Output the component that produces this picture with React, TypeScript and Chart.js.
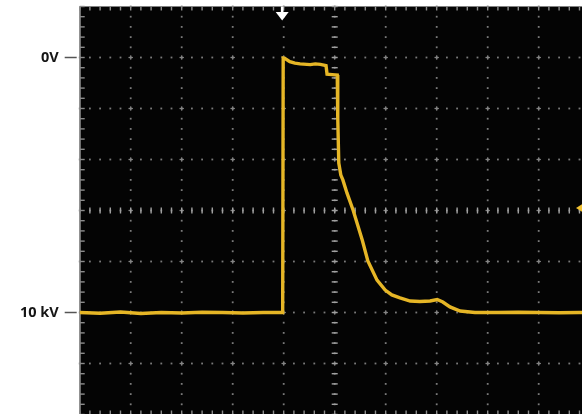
import React, { useEffect, useRef } from "react";
import { Chart, registerables } from "chart.js";

Chart.register(...registerables);

// ---- data (time in divisions, voltage in kV) ----
const TIME = [
  0, 0.4, 0.8, 1.2, 1.6, 2.0, 2.4, 2.8, 3.2, 3.6, 3.98,
  3.99, 4.02, 4.12, 4.22, 4.32, 4.52, 4.62, 4.72, 4.83, 4.85, 4.95, 5.05, 5.06, 5.08,
  5.12, 5.16, 5.24, 5.36, 5.54, 5.65, 5.83, 5.99, 6.12, 6.28, 6.48, 6.67, 6.87, 7.01,
  7.12, 7.26, 7.46, 7.75, 8.2, 8.6, 9.0, 9.4, 9.8, 10,
];
const VOLTS = [
  -10.0, -10.03, -9.98, -10.04, -10.0, -10.02, -9.99, -10.0, -10.02, -10.0, -10.0,
  -0.02, -0.03, -0.16, -0.22, -0.25, -0.28, -0.25, -0.27, -0.32, -0.65, -0.67, -0.69, -2.37, -4.14,
  -4.61, -4.8, -5.31, -5.98, -7.16, -7.98, -8.73, -9.12, -9.31, -9.43, -9.55, -9.57, -9.55, -9.49,
  -9.59, -9.78, -9.94, -10.0, -10.0, -9.99, -10.0, -10.01, -10.0, -10.0,
];
const TICK_VALUES = [0, -10];
const TICK_LABELS = ["0V", "10 kV"];
const TRIGGER_TIME = 3.97;
const TRIGGER_LEVEL = -5.9;
const X_MIN = 0;
const X_MAX = 10;
const Y_MIN = -14;
const Y_MAX = 2;

const graticule = {
  id: "graticule",
  beforeDatasetsDraw(chart: any) {
    const { ctx, chartArea: a, scales } = chart;
    const x = scales.x;
    const y = scales.y;
    ctx.save();
    ctx.fillStyle = "#040404";
    ctx.fillRect(a.left, a.top, a.right - a.left, a.bottom - a.top);

    // dotted grid
    ctx.fillStyle = "#7a7a7a";
    for (let i = 1; i < 10; i++) {
      const px = x.getPixelForValue(i);
      for (let k = 0; k <= 40; k++) {
        const py = y.getPixelForValue(Y_MIN + k * 0.4);
        ctx.fillRect(px - 0.9, py - 0.9, 1.8, 1.8);
      }
    }
    for (let j = 1; j < 8; j++) {
      const py = y.getPixelForValue(Y_MAX - j * 2);
      for (let k = 0; k <= 50; k++) {
        const px = x.getPixelForValue(k * 0.2);
        ctx.fillRect(px - 0.9, py - 0.9, 1.8, 1.8);
      }
    }
    // intersections
    ctx.fillStyle = "#858585";
    for (let i = 1; i < 10; i++) {
      for (let j = 1; j < 8; j++) {
        const px = x.getPixelForValue(i);
        const py = y.getPixelForValue(Y_MAX - j * 2);
        ctx.fillRect(px - 2.2, py - 0.6, 4.4, 1.2);
        ctx.fillRect(px - 0.6, py - 2.2, 1.2, 4.4);
      }
    }
    // center axes with minor ticks
    ctx.fillStyle = "#a0a0a0";
    const cx = x.getPixelForValue(5);
    const cy = y.getPixelForValue(-6);
    for (let k = 0; k <= 40; k++) {
      const py = y.getPixelForValue(Y_MIN + k * 0.4);
      ctx.fillRect(cx - 3, py - 0.7, 6, 1.4);
    }
    for (let k = 0; k <= 50; k++) {
      const px = x.getPixelForValue(k * 0.2);
      ctx.fillRect(px - 0.7, cy - 3, 1.4, 6);
    }
    // left border with ticks
    ctx.fillStyle = "#8a8a8a";
    ctx.fillRect(a.left - 0.5, a.top, 1.6, a.bottom - a.top);
    for (let k = 0; k <= 40; k++) {
      const py = y.getPixelForValue(Y_MIN + k * 0.4);
      ctx.fillRect(a.left, py - 0.7, 5, 1.4);
    }
    // top & bottom ticks
    for (let k = 0; k <= 50; k++) {
      const px = x.getPixelForValue(k * 0.2);
      ctx.fillRect(px - 0.7, a.top, 1.4, 4);
      ctx.fillRect(px - 0.7, a.bottom - 4, 1.4, 4);
    }
    // outside tick marks for labels
    ctx.strokeStyle = "#555";
    ctx.lineWidth = 1.5;
    for (const v of TICK_VALUES) {
      const py = y.getPixelForValue(v);
      ctx.beginPath();
      ctx.moveTo(a.left - 15, py);
      ctx.lineTo(a.left - 3, py);
      ctx.stroke();
    }
    ctx.restore();
  },
  afterDatasetsDraw(chart: any) {
    const { ctx, chartArea: a, scales } = chart;
    const x = scales.x;
    const y = scales.y;
    ctx.save();
    // trigger position arrow
    const tx = x.getPixelForValue(TRIGGER_TIME);
    ctx.fillStyle = "#ffffff";
    ctx.fillRect(tx - 1.3, a.top, 2.6, 6);
    ctx.beginPath();
    ctx.moveTo(tx - 6.5, a.top + 5.5);
    ctx.lineTo(tx + 6.5, a.top + 5.5);
    ctx.lineTo(tx, a.top + 14);
    ctx.closePath();
    ctx.fill();
    // trigger level marker
    const ty = y.getPixelForValue(TRIGGER_LEVEL);
    const rx = 576;
    ctx.fillStyle = "#f2c232";
    ctx.beginPath();
    ctx.moveTo(rx, ty);
    ctx.lineTo(rx + 8, ty - 5);
    ctx.lineTo(rx + 8, ty + 5);
    ctx.closePath();
    ctx.fill();
    ctx.restore();
  },
};

export default function App() {
  const ref = useRef<HTMLCanvasElement>(null);
  useEffect(() => {
    const pts = TIME.map((t, i) => ({ x: t, y: VOLTS[i] }));
    const chart = new Chart(ref.current!, {
      type: "line",
      data: {
        datasets: [
          {
            data: pts,
            borderColor: "#e6b626",
            borderWidth: 3.4,
            pointRadius: 0,
            tension: 0,
          },
          {
            data: pts,
            borderColor: "#fff0a0",
            borderWidth: 1.2,
            pointRadius: 0,
            tension: 0,
          },
        ],
      },
      options: {
        animation: false,
        responsive: false,
        devicePixelRatio: 1,
        layout: { autoPadding: false, padding: { top: 6.5, right: 10.3, bottom: 15.5, left: 0 } },
        plugins: { legend: { display: false }, tooltip: { enabled: false } },
        scales: {
          x: { type: "linear", min: X_MIN, max: X_MAX, display: false },
          y: {
            type: "linear",
            min: Y_MIN,
            max: Y_MAX,
            grid: { display: false, drawTicks: false },
            border: { display: false },
            afterBuildTicks: (s: any) => {
              s.ticks = TICK_VALUES.map((v) => ({ value: v }));
            },
            afterFit: (s: any) => {
              s.width = 79.7;
              s.paddingTop = 0;
              s.paddingBottom = 0;
            },
            ticks: {
              padding: 21,
              color: "#151515",
              font: { family: "'Open Sans', sans-serif", size: 14.5, weight: "bold" },
              callback: (v: any) => {
                const i = TICK_VALUES.indexOf(Number(v));
                return i >= 0 ? TICK_LABELS[i] : "";
              },
            },
          },
        },
      },
      plugins: [graticule],
    });
    return () => chart.destroy();
  }, []);
  return (
    <div
      style={{
        position: "fixed",
        left: 0,
        top: 0,
        width: 582,
        height: 414,
        overflow: "hidden",
        background: "#fff",
      }}
    >
      <canvas ref={ref} width={600} height={430} style={{ width: 600, height: 430, display: "block" }} />
    </div>
  );
}
